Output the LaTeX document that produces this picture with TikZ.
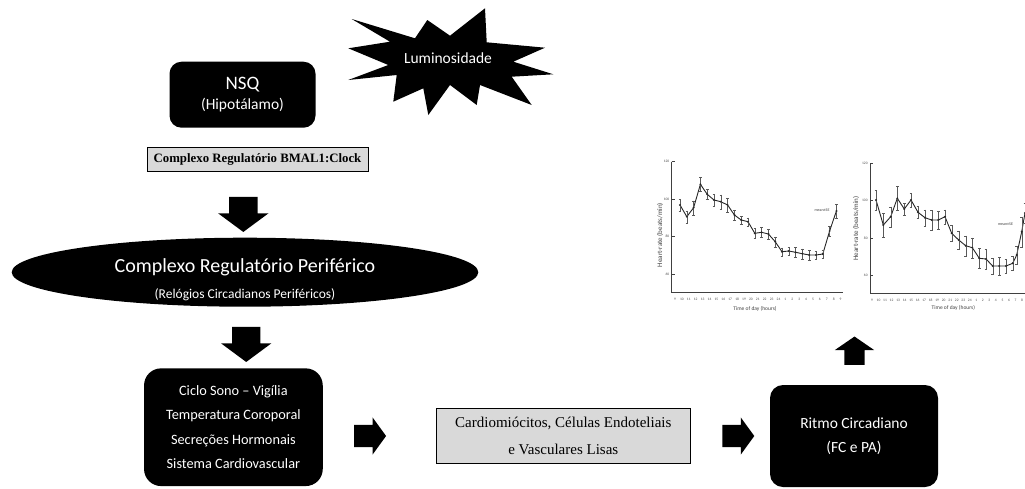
\documentclass[tikz,border=0pt]{standalone}
\usepackage{fontspec}
\setmainfont{Liberation Serif}
\newfontfamily\calibri{Carlito}
\usetikzlibrary{shapes.geometric,shapes.arrows,shadows}

% heart-rate curves: y / error (left), x / y / error (right)
\def\hrA{205/6,216.7/6,207.7/7,184.3/7,194.3/5,200/6,201.7/7,205/7,215/5,220/4,221.7/4,233.3/5,232.3/5,234/5,241.7/5,251.7/4,251/4,252.3/5,253.7/5,255/5,255/4,254/4,231/5,211/7}
\def\hrB{876/200/10,883.3/225/12,890.7/216.7/10,897.3/198.3/12,904.3/209/6,911/200/7,918/212.3/6,925/217.7/8,931.7/220/10,938.3/220/9,945/216.7/7,951.7/233.3/8,958.7/240/9,965.7/245.7/10,972.3/247.7/10,979.3/258.3/10,986/259/10,992.7/266/8,999.3/266/9,1006/266/7,1012.7/263.3/7,1016.7/255/9,1021.7/231.7/15,1025/213/10}

\begin{document}
\begin{tikzpicture}[
		x=1pt,y=-1pt,
		blk/.style={fill=black,text=white,align=center,inner sep=0pt},
		gbox/.style={draw=black,line width=0.6pt,fill=black!15,inner sep=0pt,align=center,
			drop shadow={shadow xshift=1pt,shadow yshift=-1pt,fill=black,opacity=0.6}},
		barrow/.style={single arrow,fill=black,inner xsep=0pt,single arrow head indent=0pt},
		axis/.style={black!75,line width=0.6pt},
		data/.style={black!85,line width=0.9pt,line join=round},
		ebar/.style={black!65,line width=0.35pt},
		tlbl/.style={font=\calibri\fontsize{3.6}{4}\selectfont,text=black!70,inner sep=0pt},
		albl/.style={text=black!75,inner sep=0pt}
	]
	\useasboundingbox (0,0) rectangle (1025,488);

	% Central clock and light
	\node[blk,rounded corners=12pt,minimum width=146pt,minimum height=66pt,
		font=\calibri\fontsize{15.5}{20}\selectfont] (nsq) at (242.5,94.7)
		{{\fontsize{19}{20}\selectfont NSQ}\\(Hipotálamo)};
	\fill (351.7,19) -- (415,38.3) -- (427.3,20) -- (450,35.7) -- (485,8.3)
		-- (486.7,42.3) -- (545,47.7) -- (513.3,61.7) -- (553.3,74.3) -- (511.7,76.7)
		-- (531.7,105) -- (480,85) -- (476.7,105) -- (450,85) -- (428.3,115)
		-- (423.3,88.3) -- (393.3,101.7) -- (396.7,75) -- (348.3,80) -- (388.3,65)
		-- (348.3,48.3) -- (390,41.7) -- cycle;
	\node[text=white,font=\calibri\fontsize{15.5}{18}\selectfont] (lum) at (448,58.3) {Luminosidade};
	\node[gbox,minimum width=221pt,minimum height=23.3pt,font=\bfseries\fontsize{12.8}{15}\selectfont]
		(bmal) at (257.5,159.3) {Complexo Regulatório BMAL1:Clock};

	% Peripheral clocks
	\node[barrow,rotate=-90,minimum height=35pt,inner ysep=14pt,
		single arrow head extend=11pt,single arrow tip angle=107] (down1) at (243.3,209.2) {};
	\node[ellipse,fill=black,minimum width=466.6pt,minimum height=69pt,inner sep=0pt] (perif) at (245,272.2) {};
	\node[align=center,text=white,font=\calibri\fontsize{13.5}{26}\selectfont] (periftxt) at (245,280)
		{{\fontsize{20}{26}\selectfont Complexo Regulatório Periférico}\\(Relógios Circadianos Periféricos)};
	\node[barrow,rotate=-90,minimum height=35pt,inner ysep=14pt,
		single arrow head extend=11pt,single arrow tip angle=107] (down2) at (246.2,339.2) {};

	% Bottom row
	\node[blk,rounded corners=17pt,minimum width=178.7pt,minimum height=117.7pt,
		font=\calibri\fontsize{14.3}{24.5}\selectfont] (fisio) at (233.4,427.2)
		{Ciclo Sono – Vigília\\Temperatura Coroporal\\Secreções Hormonais\\Sistema Cardiovascular};
	\node[barrow,minimum height=32pt,inner ysep=11pt,
		single arrow head extend=7.35pt,single arrow tip angle=108] (right1) at (366,436) {};
	\node[gbox,minimum width=253.3pt,minimum height=55pt,font=\fontsize{15}{26.6}\selectfont]
		(cells) at (563.3,435.8) {Cardiomiócitos, Células Endoteliais\\e Vasculares Lisas};
	\node[barrow,minimum height=32pt,inner ysep=11pt,
		single arrow head extend=7.35pt,single arrow tip angle=108] (right2) at (734.2,436) {};
	\node[blk,rounded corners=13pt,minimum width=168pt,minimum height=102pt,
		font=\calibri\fontsize{15.5}{24.4}\selectfont] (ritmo) at (854,436)
		{Ritmo Circadiano\\(FC e PA)};
	\node[barrow,rotate=90,minimum height=28.3pt,inner ysep=10pt,
		single arrow head extend=9.5pt,single arrow tip angle=111] (up1) at (854.5,354.2) {};

	% Left heart-rate chart
	\draw[axis] (671.7,161.7) -- (671.7,292.3) -- (843.3,292.3);
	\foreach \yy/\v in {161.7/120,199.3/100,236.7/80,274/60} {
		\draw[axis] (671.7,\yy) -- (674.5,\yy);
		\node[tlbl,anchor=east] (ya\v) at (669.5,\yy) {\v};
	}
	\foreach \h [count=\k from 0] in {9,10,11,12,13,14,15,16,17,18,19,20,21,22,23,24,1,2,3,4,5,6,7,8,9}
		\node[tlbl] (xa\k) at (675+6.9*\k,299) {\h};
	\draw[data] (680,205) \foreach \y/\e [count=\i from 0] in \hrA { -- (680+6.8*\i,\y) };
	\foreach \y/\e [count=\i from 0] in \hrA {
		\draw[ebar] (680+6.8*\i,\y-\e) -- (680+6.8*\i,\y+\e)
			(680+6.8*\i-1.3,\y-\e) -- (680+6.8*\i+1.3,\y-\e)
			(680+6.8*\i-1.3,\y+\e) -- (680+6.8*\i+1.3,\y+\e);
		\fill[black!85] (680+6.8*\i,\y) circle[radius=1.1pt];
	}
	\node[albl,rotate=90,font=\calibri\fontsize{7}{8}\selectfont] (ylA) at (660,235) {Heart-rate (beats/min)};
	\node[albl,font=\calibri\fontsize{5.5}{6}\selectfont] (xlA) at (755,309) {Time of day (hours)};
	\node[albl,font=\calibri\fontsize{4}{5}\selectfont] (seA) at (822,210) {mean±SE};

	% Right heart-rate chart
	\draw[axis] (870,163.3) -- (870,293.3) -- (1030,293.3);
	\foreach \yy/\v in {163.3/120,200.7/100,238.3/80,275/60} {
		\draw[axis] (870,\yy) -- (872.8,\yy);
		\node[tlbl,anchor=east] (yb\v) at (867.8,\yy) {\v};
	}
	\foreach \h [count=\k from 0] in {9,10,11,12,13,14,15,16,17,18,19,20,21,22,23,24,1,2,3,4,5,6,7,8}
		\node[tlbl] (xb\k) at (872+6.52*\k,300) {\h};
	\draw[data] (876,200) \foreach \x/\y/\e in \hrB { -- (\x,\y) };
	\foreach \x/\y/\e in \hrB {
		\draw[ebar] (\x,\y-\e) -- (\x,\y+\e)
			(\x-1.3,\y-\e) -- (\x+1.3,\y-\e)
			(\x-1.3,\y+\e) -- (\x+1.3,\y+\e);
		\fill[black!85] (\x,\y) circle[radius=1.1pt];
	}
	\node[albl,rotate=90,font=\calibri\fontsize{7}{8}\selectfont] (ylB) at (856,228.3) {Heart-rate (beats/min)};
	\node[albl,font=\calibri\fontsize{5.5}{6}\selectfont] (xlB) at (953.3,307.7) {Time of day (hours)};
	\node[albl,font=\calibri\fontsize{4}{5}\selectfont] (seB) at (1005.5,224.3) {mean±SE};
\end{tikzpicture}
\end{document}
